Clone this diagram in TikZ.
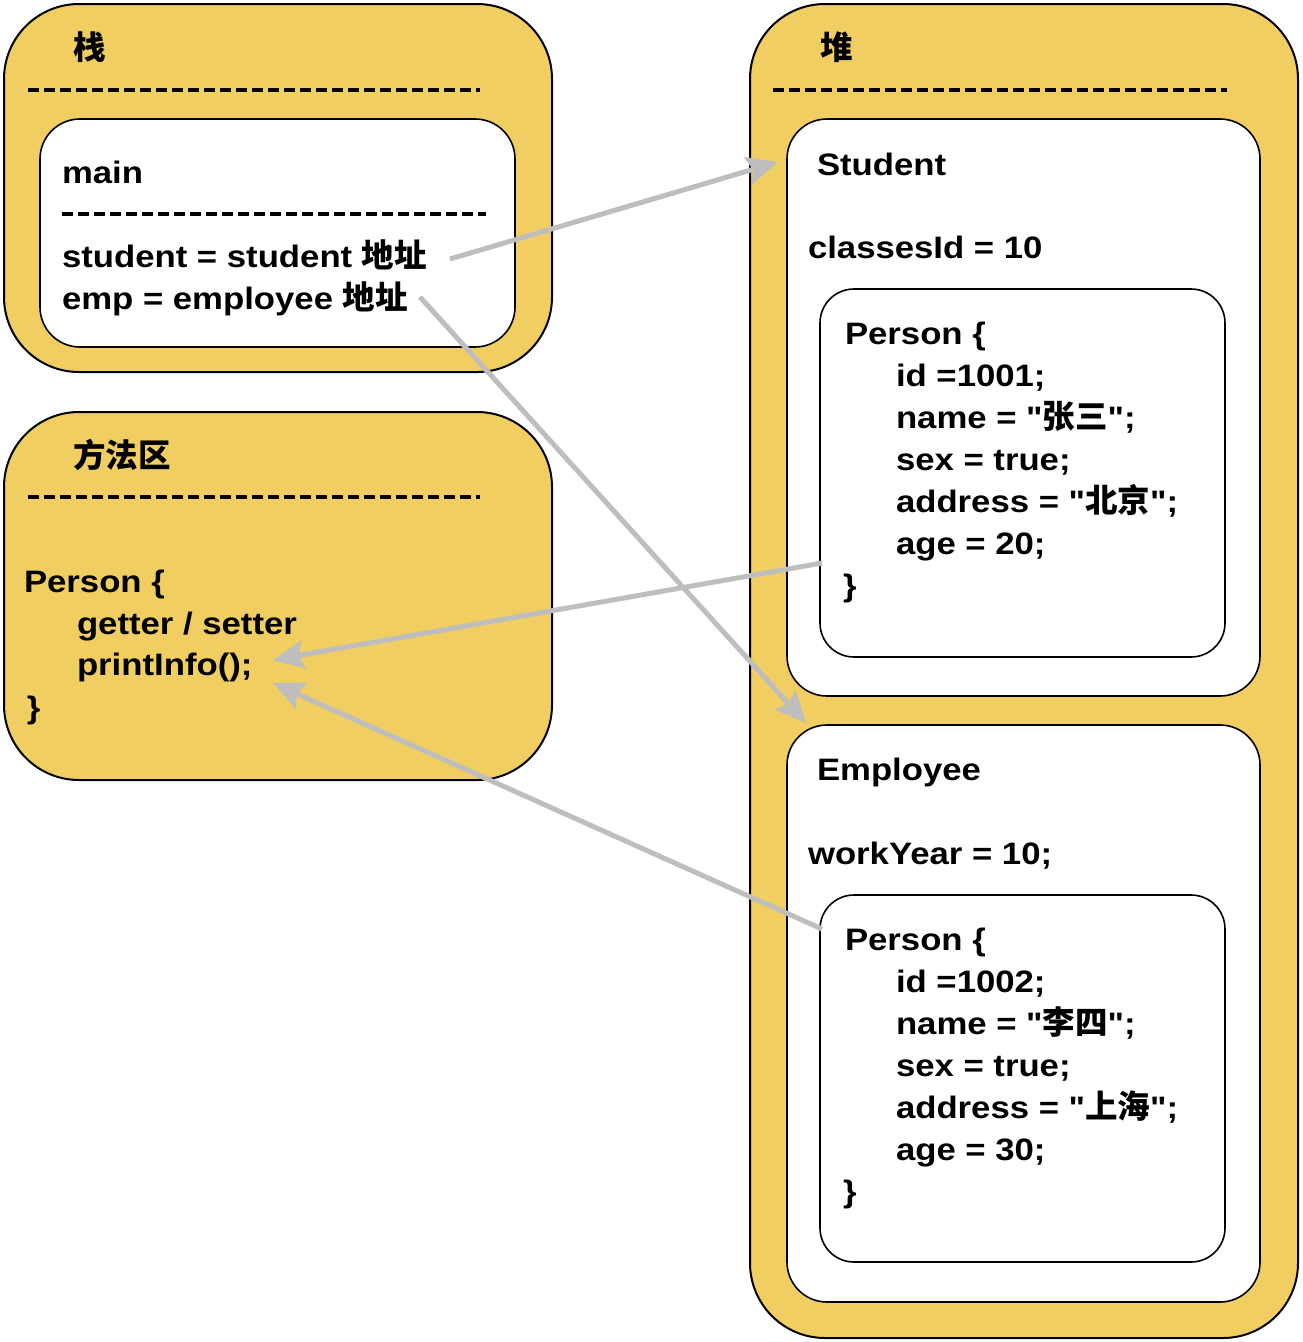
\documentclass[tikz,border=0pt]{standalone}
\usepackage{fontspec}
\newfontfamily\latinfont{Liberation Sans}[FakeStretch=1.12]
\newfontfamily\cjkfont{Noto Sans CJK SC}
\newcommand{\zh}[1]{{\cjkfont\fontsize{32.5}{42}\selectfont\bfseries #1}}
\usetikzlibrary{arrows.meta}
\definecolor{areayellow}{HTML}{F0CE62}
\definecolor{refgray}{HTML}{BEBEBE}
\begin{document}
\begin{tikzpicture}[x=1pt,y=-1pt,
  area/.style={rectangle, draw=black, line width=2pt, fill=areayellow, rounded corners=75pt, inner sep=0pt, outer sep=0pt, anchor=north west},
  frame/.style={rectangle, draw=black, line width=1.6pt, fill=white, rounded corners=40pt, inner sep=0pt, outer sep=0pt, anchor=north west},
  pframe/.style={frame, rounded corners=34pt},
  lbl/.style={anchor=base west, inner sep=0pt, outer sep=0pt, font=\latinfont\fontsize{31}{42}\selectfont\bfseries},
  sepline/.style={line width=4pt, dash pattern=on 11pt off 5pt},
  refarrow/.style={draw=refgray, line width=5pt, -{Stealth[length=31pt,width=28pt,inset=5pt]}}
]
\fill[white] (0,0) rectangle (1302,1342);
\useasboundingbox (0,0) rectangle (1302,1342);

% ---------- stack ----------
\node[area, minimum width=548pt, minimum height=368pt] (stack) at (4,4) {};
\node[lbl] (stacktitle) at (73,59) {\zh{栈}};
\draw[sepline] (28,90) -- (480,90);
\node[frame, minimum width=475pt, minimum height=228pt] (mainbox) at (40,119) {};
\node[lbl] (maintitle) at (62,183) {main};
\draw[sepline] (62,214) -- (486,214);
\node[lbl] (stuvar) at (62,267) {student = student \zh{地址}};
\node[lbl] (empvar) at (62,309) {emp = employee \zh{地址}};

% ---------- method area ----------
\node[area, minimum width=548pt, minimum height=368pt] (method) at (4,412) {};
\node[lbl] (methodtitle) at (73,467) {\zh{方法区}};
\draw[sepline] (28,497) -- (480,497);
\node[lbl] (mp1) at (24,592) {Person \{};
\node[lbl] (mp2) at (77,634) {getter / setter};
\node[lbl] (mp3) at (77,675) {printInfo();};
\node[lbl] (mp4) at (27,718) {\}};

% ---------- heap ----------
\node[area, minimum width=548pt, minimum height=1334pt] (heap) at (750,4) {};
\node[lbl] (heaptitle) at (820,59) {\zh{堆}};
\draw[sepline] (773,90) -- (1227,90);

\node[frame, minimum width=473pt, minimum height=577pt] (studentbox) at (787,119) {};
\node[lbl] (stitle) at (817,175) {Student};
\node[lbl] (cid) at (808,258) {classesId = 10};
\node[pframe, minimum width=405pt, minimum height=368pt] (sperson) at (820,289) {};
\node[lbl] (sp1) at (845,344) {Person \{};
\node[lbl] (sp2) at (896,386) {id =1001;};
\node[lbl] (sp3) at (896,428) {name = "\zh{张三}";};
\node[lbl] (sp4) at (896,470) {sex = true;};
\node[lbl] (sp5) at (896,512) {address = "\zh{北京}";};
\node[lbl] (sp6) at (896,554) {age = 20;};
\node[lbl] (sp7) at (843,596) {\}};

\node[frame, minimum width=473pt, minimum height=577pt] (employeebox) at (787,725) {};
\node[lbl] (etitle) at (817,780) {Employee};
\node[lbl] (wy) at (808,864) {workYear = 10;};
\node[pframe, minimum width=405pt, minimum height=367pt] (eperson) at (820,895) {};
\node[lbl] (ep1) at (845,950) {Person \{};
\node[lbl] (ep2) at (896,992) {id =1002;};
\node[lbl] (ep3) at (896,1034) {name = "\zh{李四}";};
\node[lbl] (ep4) at (896,1076) {sex = true;};
\node[lbl] (ep5) at (896,1118) {address = "\zh{上海}";};
\node[lbl] (ep6) at (896,1160) {age = 30;};
\node[lbl] (ep7) at (843,1202) {\}};

% ---------- references ----------
\coordinate (stuFrom) at (450,259);
\coordinate (stuTo) at (778,162);
\coordinate (empFrom) at (420,297);
\coordinate (empTo) at (806,723);
\coordinate (spFrom) at (822,563);
\coordinate (spTo) at (273,660);
\coordinate (epFrom) at (822,929);
\coordinate (epTo) at (273,683);
\draw[refarrow] (stuFrom) -- (stuTo);
\draw[refarrow] (empFrom) -- (empTo);
\draw[refarrow] (spFrom) -- (spTo);
\draw[refarrow] (epFrom) -- (epTo);
\end{tikzpicture}
\end{document}
